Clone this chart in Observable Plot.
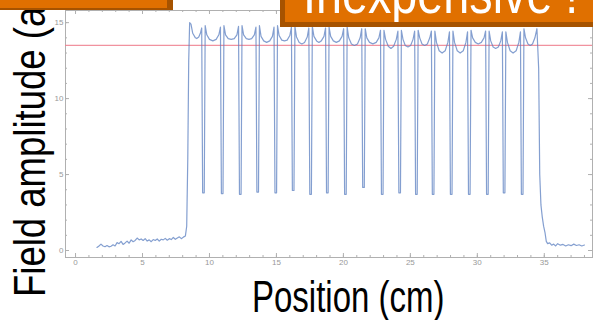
<!DOCTYPE html>
<html><head><meta charset="utf-8">
<script src="https://cdn.jsdelivr.net/npm/d3@7"></script>
<script src="https://cdn.jsdelivr.net/npm/@observablehq/plot@0.6"></script>
<style>
html,body{margin:0;padding:0;background:#fff}
#wrap{position:relative;width:593px;height:320px;overflow:hidden;background:#fff}
#chart{position:absolute;left:0;top:0}
#over{position:absolute;left:0;top:0}
</style></head><body>
<div id="wrap"><div id="chart"></div>
<svg id="over" width="593" height="320">
  <g font-family="'Liberation Sans', Arial, sans-serif" fill="#000">
    <text transform="translate(45,297) rotate(-90) scale(0.83,1)" font-size="44">Field amplitude (a.u.)</text>
    <text transform="translate(252,312) scale(0.75,1)" font-size="44">Position (cm)</text>
  </g>
  <rect x="0" y="0" width="173" height="10" fill="#A65300"/>
  <rect x="0" y="0" width="167" height="8" fill="#E07000"/>
  <rect x="280" y="0" width="313" height="27" fill="#A65300"/>
  <rect x="285" y="0" width="308" height="22" fill="#E07000"/>
  <clipPath id="bc"><rect x="285" y="0" width="308" height="22"/></clipPath>
  <g clip-path="url(#bc)">
    <text transform="translate(303,13) scale(0.82,1)" font-size="57" fill="#fff" font-family="'Liberation Sans', Arial, sans-serif">Inexpensive !</text>
  </g>
</svg>
</div>
<script>
// Position (cm) and field amplitude
const posCm = [
  1.6,1.75,1.9,2.05,2.2,2.35,2.5,2.65,2.8,2.95,3.1,3.25,3.4,3.55,3.7,3.85,4.0,4.15,4.3,4.45,4.6,4.75,4.9,5.05,5.2,5.35,5.5,5.65,5.8,5.95,6.1,6.25,6.4,6.55,6.7,6.85,7.0,7.15,7.3,7.45,7.6,7.75,7.9,8.05,8.2,
  8.3,8.38,8.45,8.52,
  8.62,8.75,8.95,9.05,9.2,9.32,9.42,9.49,9.61,9.68,
  9.8,10.0,10.25,10.5,10.7,10.82,10.89,11.01,11.08,
  11.2,11.4,11.62,11.85,12.05,12.17,12.24,12.36,12.43,
  12.55,12.75,12.95,13.15,13.35,13.47,13.54,13.66,13.73,
  13.85,14.05,14.27,14.5,14.7,14.82,14.89,15.01,15.08,
  15.2,15.4,15.6,15.8,16.0,16.12,16.19,16.31,16.38,
  16.5,16.7,16.9,17.1,17.3,17.42,17.49,17.61,17.68,
  17.8,18.0,18.17,18.35,18.55,18.67,18.74,18.86,18.93,
  19.05,19.25,19.47,19.7,19.9,20.02,20.09,20.21,20.28,
  20.4,20.6,20.82,21.05,21.25,21.37,21.44,21.56,21.63,
  21.75,21.95,22.2,22.45,22.65,22.77,22.84,22.96,23.03,
  23.15,23.35,23.55,23.75,23.95,24.07,24.14,24.26,24.33,
  24.45,24.62,24.82,25.02,25.2,25.32,25.39,25.51,25.58,
  25.7,25.87,26.07,26.27,26.45,26.57,26.64,26.76,26.83,
  26.95,27.15,27.37,27.6,27.8,27.92,27.99,28.11,28.18,
  28.3,28.5,28.72,28.95,29.15,29.27,29.34,29.46,29.53,
  29.65,29.85,30.07,30.3,30.5,30.62,30.69,30.81,30.88,
  31.0,31.18,31.37,31.57,31.75,31.87,31.94,32.06,32.13,
  32.25,32.45,32.67,32.9,33.1,33.22,33.29,33.41,33.48,
  33.6,33.78,33.95,34.12,34.3,34.45,
  34.58,34.66,34.75,34.85,34.95,35.05,35.15,35.25,
  35.4,35.55,35.7,35.85,36.0,36.2,36.4,36.6,36.8,37.0,37.2,37.4,37.6,37.8,38.0
];
const amplitude = [
  0.20,0.30,0.42,0.30,0.25,0.33,0.24,0.28,0.38,0.30,0.52,0.45,0.60,0.40,0.50,0.62,0.48,0.70,0.58,0.66,0.82,0.70,0.76,0.66,0.78,0.62,0.70,0.58,0.72,0.66,0.76,0.62,0.74,0.70,0.80,0.68,0.78,0.72,0.86,0.74,0.82,0.90,0.78,0.88,0.95,
  1.6,6.0,12.5,15.0,
  14.9,14.3,14.0,13.95,14.05,14.3,14.65,3.8,3.8,14.8,
  14.2,13.9,13.8,13.9,14.2,14.7,3.75,3.75,14.8,
  14.2,13.95,13.9,13.95,14.2,14.75,3.7,3.7,14.8,
  14.2,13.95,13.9,13.95,14.2,14.7,3.85,3.85,14.8,
  14.1,13.8,13.7,13.8,14.1,14.7,3.8,3.8,14.8,
  14.15,13.85,13.8,13.85,14.15,14.7,3.95,3.95,14.75,
  14.05,13.7,13.6,13.7,14.05,14.65,3.7,3.7,14.75,
  14.1,13.8,13.7,13.8,14.1,14.65,3.8,3.8,14.7,
  14.1,13.8,13.7,13.8,14.1,14.6,3.7,3.7,14.7,
  14.0,13.6,13.5,13.6,14.0,14.6,4.15,4.15,14.6,
  14.0,13.7,13.6,13.7,14.0,14.5,3.7,3.7,14.5,
  13.9,13.45,13.3,13.45,13.9,14.45,3.8,3.8,14.5,
  13.9,13.5,13.4,13.5,13.9,14.45,3.7,3.7,14.5,
  14.0,13.6,13.5,13.6,14.0,14.45,3.7,3.7,14.45,
  13.7,13.15,13.0,13.15,13.7,14.4,3.7,3.7,14.45,
  13.7,13.15,13.0,13.15,13.7,14.4,3.7,3.7,14.5,
  14.0,13.7,13.6,13.7,14.0,14.45,3.7,3.7,14.45,
  13.8,13.4,13.3,13.4,13.8,14.4,3.8,3.8,14.4,
  13.7,13.15,13.0,13.15,13.7,14.4,3.7,3.7,14.6,
  14.0,13.6,13.5,13.6,14.0,14.6,
  12.0,5.0,3.0,2.2,1.6,1.2,0.6,0.45,
  0.5,0.35,0.42,0.3,0.45,0.35,0.4,0.3,0.38,0.32,0.42,0.33,0.38,0.3,0.36
];
const referenceLevel = [13.5];
const xTickValues = [0,5,10,15,20,25,30,35];
const yTickValues = [0,5,10,15];
const xMinorValues = d3.range(0, 39);
const yMinorValues = d3.range(0, 16);

const trace = posCm.map((x, i) => ({x, y: amplitude[i]}));
const W = 593, H = 320, mL = 65, mR = 1, mT = 10, mB = 63;
const fw = W - mL - mR, fh = H - mT - mB;
const tc = "#b0b0b0";

const chart = Plot.plot({
  width: W, height: H,
  marginLeft: mL, marginRight: mR, marginTop: mT, marginBottom: mB,
  style: {background: "transparent", fontFamily: "'Liberation Sans', Arial, sans-serif"},
  x: {domain: [-0.75, 38.6]},
  y: {domain: [-0.46, 15.8]},
  marks: [
    Plot.frame({stroke: tc}),
    Plot.ruleY(referenceLevel, {y: d => d, stroke: "#ee7f8e", strokeWidth: 1.3, strokeOpacity: 0.85}),
    Plot.line(trace, {x: "x", y: "y", stroke: "#5b7fc0", strokeWidth: 1.2, strokeOpacity: 0.75}),
    Plot.tickX(xMinorValues, {x: d => d, stroke: tc, insetTop: fh - 2}),
    Plot.tickX(xTickValues, {x: d => d, stroke: tc, insetTop: fh - 4}),
    Plot.tickX(xMinorValues, {x: d => d, stroke: tc, insetBottom: fh - 2}),
    Plot.tickX(xTickValues, {x: d => d, stroke: tc, insetBottom: fh - 4}),
    Plot.tickY(yMinorValues, {y: d => d, stroke: tc, insetRight: fw - 2}),
    Plot.tickY(yTickValues, {y: d => d, stroke: tc, insetRight: fw - 4}),
    Plot.tickY(yMinorValues, {y: d => d, stroke: tc, insetLeft: fw - 2}),
    Plot.tickY(yTickValues, {y: d => d, stroke: tc, insetLeft: fw - 4}),
    Plot.axisX({ticks: xTickValues, tickSize: 0, tickPadding: 2, fontSize: 8, color: "#999", label: null}),
    Plot.axisY({ticks: yTickValues, tickSize: 0, tickPadding: 2, fontSize: 8, color: "#999", label: null})
  ]
});
document.getElementById("chart").appendChild(chart);
</script>
</body></html>
